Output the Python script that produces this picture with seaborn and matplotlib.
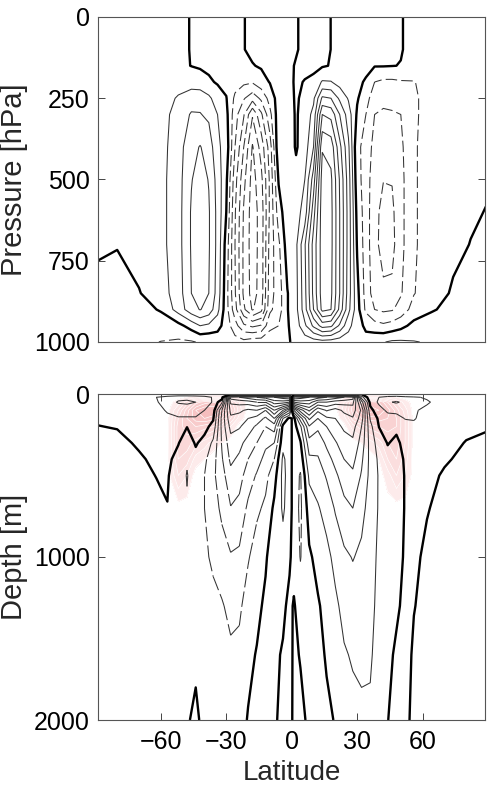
import numpy as np
import matplotlib
matplotlib.use("Agg")
import matplotlib.pyplot as plt
import seaborn as sns
import contourpy
from matplotlib.collections import LineCollection
from matplotlib.colors import LinearSegmentedColormap

# ---------------- atmosphere: streamfunction (contour units) ----------------
atm_lat = [-89, -80, -70, -60, -52, -46, -42, -38, -34, -30, -26, -22, -18, -14,
           -10, -6, -2, 2, 6, 10, 14, 18, 22, 26, 30, 34, 38, 42, 46, 50, 56, 64,
           74, 82, 89]
atm_p = [0, 100, 150, 200, 250, 300, 400, 500, 600, 700, 850, 900, 950, 1000]
# one list per latitude, values at the pressures above
atm_psi_by_lat = [
    [0.2, 0.2, 0.25, 0.3, 0.3, 0.3, 0.3, 0.3, 0.25, 0.15, -0.3, -0.4, -0.5, -0.5],
    [0.25, 0.25, 0.3, 0.35, 0.4, 0.4, 0.4, 0.4, 0.3, 0.05, -0.4, -0.5, -0.6, -0.6],
    [0.3, 0.3, 0.35, 0.4, 0.5, 0.55, 0.55, 0.55, 0.5, 0.4, -0.05, -0.4, -0.6, -0.8],
    [0.3, 0.3, 0.35, 0.4, 0.55, 0.6, 0.65, 0.7, 0.7, 0.7, 0.55, 0.1, -0.6, -1.02],
    [0.25, 0.25, 0.2, 0.6, 1.1, 1.4, 1.55, 1.6, 1.6, 1.6, 1.5, 1.4, -0.3, -1.15],
    [-0.05, -0.05, -0.02, 0.6, 1.5, 2.1, 2.7, 2.95, 3.1, 3.1, 3.0, 2.6, 0.4, -1.1],
    [-0.15, -0.15, -0.1, 0.4, 1.65, 2.05, 3.05, 3.4, 3.6, 3.6, 3.4, 3.05, 1.0, -0.9],
    [-0.2, -0.2, -0.2, 0.15, 1.2, 1.8, 2.6, 2.95, 3.1, 3.1, 3.0, 2.6, 0.8, -0.9],
    [-0.2, -0.2, -0.25, -0.1, 0.5, 1.0, 1.2, 1.6, 1.7, 1.7, 1.6, 1.3, 0.4, -0.7],
    [-0.15, -0.15, -0.2, -0.3, 0.05, 0.3, 0.6, 0.2, 0.0, -0.4, -0.6, -0.6, -0.5, -0.8],
    [-0.1, -0.1, -0.15, -0.6, -1.2, -1.6, -2.0, -2.6, -2.9, -3.0, -2.9, -2.6, -1.6, -0.6],
    [-0.03, -0.03, -0.1, -0.8, -1.9, -2.9, -4.0, -4.7, -5.1, -5.2, -5.2, -4.8, -2.8, -0.7],
    [0.2, 0.2, -0.05, -0.9, -2.6, -4.9, -6.1, -6.4, -6.5, -6.5, -6.4, -6.1, -3.2, -0.4],
    [0.3, 0.3, 0.1, -0.4, -1.8, -3.2, -4.6, -5.3, -5.6, -5.6, -5.6, -5.3, -2.9, -0.4],
    [0.35, 0.35, 0.35, 0.05, -0.6, -1.3, -2.5, -2.8, -2.8, -2.6, -2.4, -2.2, -1.3, -0.3],
    [0.35, 0.35, 0.4, 0.4, 0.45, 0.6, 0.8, 0.1, -0.5, -1.2, -1.5, -1.5, -1.0, -0.3],
    [0.3, 0.3, 0.3, 0.35, 0.4, 0.5, 0.6, 0.7, 0.7, 0.5, -0.05, -0.05, -0.1, -0.1],
    [0.1, 0.1, -0.1, -0.15, -0.12, -0.1, -0.1, 0.3, 0.6, 0.8, 0.7, 0.7, 0.5, 0.2],
    [-0.3, -0.3, -0.25, 0.05, 0.25, 0.4, 0.5, 1.0, 1.4, 2.9, 2.7, 2.6, 1.8, 0.4],
    [-0.35, -0.35, -0.3, 0.3, 0.8, 1.3, 2.0, 3.5, 4.6, 5.4, 5.3, 5.0, 3.2, 0.5],
    [-0.25, -0.25, -0.1, 1.1, 3.2, 5.0, 6.9, 7.5, 7.6, 7.5, 7.5, 7.3, 4.4, 0.6],
    [0.01, 0.01, 0.05, 1.05, 3.0, 4.7, 6.6, 7.2, 7.3, 7.3, 7.2, 7.0, 4.2, 0.5],
    [0.2, 0.2, 0.3, 0.6, 1.8, 3.0, 4.3, 4.9, 5.0, 5.0, 5.0, 4.7, 2.8, 0.4],
    [0.3, 0.3, 0.35, 0.45, 0.9, 1.5, 2.2, 2.5, 2.6, 2.6, 2.5, 2.3, 1.3, 0.5],
    [0.3, 0.3, 0.3, 0.2, 0.1, -0.15, -0.8, -0.6, -0.3, -0.1, 0.3, 0.4, 0.4, 0.5],
    [0.3, 0.3, 0.25, -0.1, -0.6, -1.0, -1.3, -1.5, -1.5, -1.5, -1.4, -1.2, -0.2, 0.35],
    [0.25, 0.25, 0.05, -1.0, -1.6, -2.0, -2.4, -2.6, -2.7, -2.7, -2.5, -2.0, -0.6, 0.8],
    [0.2, 0.2, 0.05, -1.2, -1.75, -2.15, -2.6, -2.97, -3.3, -3.4, -2.8, -2.2, -0.8, 0.95],
    [0.1, 0.1, 0.02, -1.2, -1.7, -2.1, -2.55, -2.95, -3.2, -3.3, -2.8, -2.1, -0.6, 1.15],
    [0.04, 0.04, -0.02, -1.1, -1.6, -2.0, -2.2, -2.3, -2.3, -2.3, -2.1, -1.6, -0.3, 1.15],
    [-0.2, -0.2, -0.25, -1.05, -1.15, -1.15, -1.1, -1.1, -1.1, -1.1, -1.05, -0.6, 0.3, 1.05],
    [-0.3, -0.3, -0.3, -0.5, -0.6, -0.6, -0.6, -0.6, -0.6, -0.6, -0.4, -0.1, 0.5, 0.9],
    [-0.3, -0.3, -0.3, -0.4, -0.45, -0.45, -0.45, -0.4, -0.3, -0.2, 0.1, 0.3, 0.5, 0.6],
    [-0.25, -0.25, -0.25, -0.3, -0.3, -0.3, -0.3, -0.2, -0.1, 0.02, 0.3, 0.4, 0.5, 0.5],
    [-0.2, -0.2, -0.2, -0.2, -0.2, -0.2, -0.2, -0.1, 0.02, 0.15, 0.3, 0.35, 0.4, 0.4],
]
atm_levels = [-8, -7, -6, -5, -4, -3, -2, -1, 0, 1, 2, 3, 4, 5, 6, 7, 8]

# ---------------- ocean: overturning streamfunction ----------------
ocn_lat = [-89, -80, -70, -62, -57, -52, -48, -44, -40, -36, -32, -28, -24, -20,
           -16, -12, -8, -4, -1, 1, 4, 8, 12, 16, 20, 24, 28, 32, 36, 40, 44, 48,
           52, 56, 62, 70, 80, 89]
ocn_depth = [0, 20, 50, 100, 150, 200, 300, 400, 500, 700, 1000, 1300, 1600, 2000]
ocn_psi_by_lat = [
    [0.05, 0.2, 0.2, 0.15, 0.05, -0.01, -0.1, -0.12, -0.12, -0.12, -0.12, -0.12, -0.12, -0.1],
    [0.05, 0.3, 0.3, 0.2, 0.1, 0.02, -0.1, -0.15, -0.15, -0.15, -0.15, -0.15, -0.15, -0.1],
    [0.05, 0.6, 0.5, 0.4, 0.3, 0.2, 0.05, -0.05, -0.1, -0.15, -0.15, -0.15, -0.15, -0.1],
    [0.05, 1.0, 0.9, 0.7, 0.5, 0.35, 0.2, 0.08, 0.01, -0.1, -0.15, -0.15, -0.15, -0.1],
    [0.05, 1.4, 1.5, 1.1, 0.8, 0.6, 0.35, 0.2, 0.08, -0.02, -0.1, -0.15, -0.15, -0.1],
    [0.05, 1.7, 2.1, 1.4, 0.9, 0.5, 0.05, -0.3, -0.5, -0.6, -0.5, -0.3, -0.15, -0.1],
    [0.05, 1.7, 2.2, 1.4, 0.9, 0.02, -0.5, -0.9, -1.05, -0.9, -0.6, -0.35, -0.15, -0.05],
    [0.05, 1.6, 2.0, 1.4, 0.9, 0.5, 0.1, -0.3, -0.5, -0.6, -0.5, -0.3, -0.1, 0.1],
    [0.05, 1.4, 1.5, 1.0, 0.6, 0.3, -0.3, -0.8, -1.0, -1.0, -0.8, -0.5, -0.3, -0.15],
    [0.05, 0.9, 0.9, 0.5, 0.1, -0.3, -1.2, -1.6, -1.8, -1.6, -1.2, -0.7, -0.4, -0.2],
    [0.05, 0.6, -0.8, -3.0, -3.3, -3.3, -3.1, -2.9, -2.6, -2.2, -1.6, -0.9, -0.5, -0.3],
    [0.05, -8.5, -7.2, -6.3, -5.8, -5.3, -4.6, -4.2, -3.7, -2.95, -1.9, -1.3, -0.8, -0.4],
    [0.05, -9.0, -7.4, -6.2, -5.6, -5.1, -4.3, -3.8, -3.4, -2.7, -1.8, -1.2, -0.7, -0.3],
    [0.05, -9.5, -7.5, -5.8, -5.0, -4.5, -3.6, -3.0, -2.5, -1.8, -1.1, -0.5, -0.2, 0.05],
    [0.05, -10.0, -8.0, -6.0, -4.6, -3.8, -3.0, -2.4, -1.9, -1.2, -0.5, -0.2, 0.05, 0.15],
    [0.05, -10.5, -8.0, -5.0, -3.8, -3.0, -2.2, -1.7, -1.3, -0.8, -0.1, 0.15, 0.2, 0.15],
    [0.05, -11.0, -9.5, -7.0, -5.0, -3.5, -2.0, -1.0, -0.4, 0.2, 0.5, 0.4, 0.2, 0.1],
    [0.05, -11.5, -9.5, -5.0, -1.0, 0.3, 0.7, 1.2, 1.3, 1.15, 0.6, 0.2, -0.1, -0.2],
    [0.05, -12.0, -9.0, -3.0, 0.3, 0.45, 0.5, 0.5, 0.5, 0.5, 0.15, -0.25, -0.3, -0.25],
    [-0.05, 12.0, 9.0, 3.0, -0.3, -0.45, -0.5, -0.5, -0.5, -0.5, -0.4, 0.1, 0.15, 0.15],
    [-0.05, 11.5, 9.5, 5.5, 2.5, 0.8, -0.1, -0.6, -1.1, -1.2, -1.05, -0.5, -0.05, 0.2],
    [-0.05, 11.0, 9.5, 7.2, 5.2, 3.9, 2.6, 1.8, 1.2, 0.45, -0.15, -0.35, -0.3, -0.15],
    [-0.05, 10.5, 8.0, 5.2, 4.0, 3.2, 2.4, 1.9, 1.5, 0.9, 0.3, -0.1, -0.15, -0.2],
    [-0.05, 10.0, 8.0, 6.1, 4.8, 4.0, 3.2, 2.6, 2.1, 1.4, 0.7, 0.3, 0.05, -0.1],
    [-0.05, 9.5, 7.5, 5.6, 5.0, 4.6, 3.9, 3.3, 2.8, 2.1, 1.3, 0.8, 0.4, 0.03],
    [-0.05, 9.0, 7.4, 6.2, 5.6, 5.2, 4.5, 4.0, 3.5, 2.7, 1.8, 1.3, 0.9, 0.5],
    [-0.05, 8.5, 7.3, 6.5, 5.9, 5.4, 4.8, 4.3, 3.8, 3.0, 2.05, 1.5, 1.1, 0.7],
    [-0.05, 1.5, 3.5, 4.8, 4.5, 4.0, 3.6, 3.2, 2.9, 2.3, 1.8, 1.5, 1.2, 0.8],
    [-0.05, -0.8, -0.3, 0.3, 0.9, 1.3, 1.6, 1.7, 1.7, 1.6, 1.4, 1.3, 1.15, 0.8],
    [-0.05, -1.0, -1.2, -0.6, -0.2, -0.02, 0.5, 0.8, 0.9, 0.9, 0.8, 0.7, 0.5, 0.3],
    [-0.05, -1.3, -1.9, -1.2, -0.6, -0.3, -0.05, 0.3, 0.5, 0.6, 0.5, 0.35, 0.15, 0.02],
    [-0.05, -1.4, -2.1, -1.3, -0.6, -0.2, 0.2, 0.35, 0.4, 0.4, 0.3, 0.1, -0.1, -0.3],
    [-0.05, -1.2, -1.8, -1.2, -1.05, -0.6, -0.3, -0.1, -0.05, -0.05, -0.1, -0.15, -0.2, -0.15],
    [-0.05, -1.1, -1.5, -1.1, -1.1, -0.7, -0.35, -0.3, -0.25, -0.2, -0.1, -0.02, 0.08, 0.15],
    [-0.05, -0.9, -1.1, -0.8, -0.5, -0.4, -0.3, -0.2, -0.12, -0.03, 0.1, 0.15, 0.2, 0.2],
    [-0.05, -0.5, -0.6, -0.5, -0.35, -0.25, -0.15, -0.05, 0.05, 0.15, 0.2, 0.2, 0.2, 0.2],
    [-0.05, -0.3, -0.35, -0.3, -0.2, -0.1, 0.02, 0.1, 0.15, 0.2, 0.2, 0.2, 0.2, 0.2],
    [-0.05, -0.2, -0.2, -0.15, -0.1, -0.05, 0.1, 0.15, 0.15, 0.15, 0.15, 0.15, 0.15, 0.15],
]
ocn_levels = list(range(-13, 14))

# pink shaded field (0..1), only where non-zero; other latitudes are 0
ocn_shade_by_lat = {
    -52: [0, 0, 0.1, 0.25, 0.35, 0.4, 0.4, 0.35, 0.25, 0, 0, 0, 0, 0],
    -48: [0, 0.05, 0.3, 0.5, 0.55, 0.5, 0.4, 0.3, 0.15, 0, 0, 0, 0, 0],
    -44: [0, 0.1, 0.5, 0.75, 0.7, 0.55, 0.3, 0.1, 0, 0, 0, 0, 0, 0],
    -40: [0, 0.15, 0.6, 0.85, 0.75, 0.5, 0.2, 0.05, 0, 0, 0, 0, 0, 0],
    -36: [0, 0.15, 0.65, 0.85, 0.7, 0.45, 0.1, 0, 0, 0, 0, 0, 0, 0],
    -32: [0, 0.15, 0.6, 0.75, 0.55, 0.3, 0.05, 0, 0, 0, 0, 0, 0, 0],
    -28: [0, 0.1, 0.4, 0.5, 0.35, 0.15, 0, 0, 0, 0, 0, 0, 0, 0],
    -24: [0, 0.05, 0.15, 0.2, 0.1, 0, 0, 0, 0, 0, 0, 0, 0, 0],
    24: [0, 0.05, 0.15, 0.2, 0.1, 0, 0, 0, 0, 0, 0, 0, 0, 0],
    28: [0, 0.1, 0.45, 0.5, 0.4, 0.2, 0, 0, 0, 0, 0, 0, 0, 0],
    32: [0, 0.15, 0.65, 0.7, 0.55, 0.3, 0.05, 0, 0, 0, 0, 0, 0, 0],
    36: [0, 0.15, 0.7, 0.8, 0.6, 0.4, 0.1, 0, 0, 0, 0, 0, 0, 0],
    40: [0, 0.15, 0.65, 0.75, 0.6, 0.45, 0.2, 0.05, 0, 0, 0, 0, 0, 0],
    44: [0, 0.1, 0.45, 0.6, 0.55, 0.5, 0.35, 0.25, 0.1, 0, 0, 0, 0, 0],
    48: [0, 0.05, 0.25, 0.4, 0.45, 0.45, 0.4, 0.35, 0.25, 0, 0, 0, 0, 0],
    52: [0, 0, 0.1, 0.2, 0.25, 0.25, 0.25, 0.2, 0.15, 0, 0, 0, 0, 0],
}
shade_levels = [0.05, 0.15, 0.25, 0.35, 0.45, 0.55, 0.65, 0.75, 0.85, 1.0]

pressure_ticks = [0, 250, 500, 750, 1000]
depth_ticks = [0, 1000, 2000]
lat_ticks = [-60, -30, 0, 30, 60]

# ---------------- style ----------------
sns.set_style("white")
plt.rcParams['font.family'] = ['Liberation Sans', 'DejaVu Sans']
plt.rcParams['axes.unicode_minus'] = True

W, H = 489, 794
fig = plt.figure(figsize=(W / 100, H / 100), dpi=100)
ax1 = fig.add_axes([98 / W, 1 - 342 / H, 387 / W, 325 / H])
ax2 = fig.add_axes([98 / W, 1 - 720 / H, 387 / W, 326 / H])

THIN = '#333333'
THIN_LW = 0.75


def dashed_by_segment(ax, x, y, z, levels, dash):
    """Negative contours, dash pattern restarting on every grid-cell segment."""
    X, Y = np.meshgrid(x, y)
    gen = contourpy.contour_generator(X, Y, z, line_type='Separate')
    segs = []
    for lev in levels:
        for line in gen.lines(lev):
            for i in range(len(line) - 1):
                segs.append(line[i:i + 2])
    ax.add_collection(LineCollection(segs, colors=THIN, linewidths=THIN_LW,
                                     linestyles=[(0, dash)]))


def draw_field(ax, x, y, cols, levels, per_segment_dash=False):
    z = np.array(cols, dtype=float).T
    neg = [l for l in levels if l < 0]
    pos = [l for l in levels if l > 0]
    if per_segment_dash:
        dashed_by_segment(ax, x, y, z, neg, (14, 4))
    else:
        ax.contour(x, y, z, levels=neg, colors=THIN, linewidths=THIN_LW,
                   linestyles=[(0, (11, 4))])
    ax.contour(x, y, z, levels=pos, colors=THIN, linewidths=THIN_LW, linestyles='solid')
    ax.contour(x, y, z, levels=[0], colors='black', linewidths=1.7, linestyles='solid')


# top panel
draw_field(ax1, atm_lat, atm_p, atm_psi_by_lat, atm_levels)
ax1.set_ylim(1000, 0)
ax1.set_xlim(-88.8, 88.6)
ax1.set_yticks(pressure_ticks)
ax1.set_xticks([])

# bottom panel: pink shading first
shade = np.zeros((len(ocn_depth), len(ocn_lat)))
for lat, col in ocn_shade_by_lat.items():
    shade[:, ocn_lat.index(lat)] = col
pink = LinearSegmentedColormap.from_list('pink', ['#fdeeee', '#f4b2b2'])
ax2.contourf(ocn_lat, ocn_depth, shade, levels=shade_levels, cmap=pink, zorder=0)
ax2.contour(ocn_lat, ocn_depth, shade, levels=shade_levels, colors='white',
            linewidths=0.5, zorder=0.5)
draw_field(ax2, ocn_lat, ocn_depth, ocn_psi_by_lat, ocn_levels, per_segment_dash=True)
ax2.set_ylim(2000, 0)
ax2.set_xlim(-88.8, 88.6)
ax2.set_yticks(depth_ticks)
ax2.set_xticks(lat_ticks)

for ax in (ax1, ax2):
    ax.tick_params(direction='in', length=5, width=0.7, color='#444444',
                   top=True, right=True, bottom=True, left=True,
                   labelsize=18, pad=6, labelcolor='black')
    for s in ax.spines.values():
        s.set_color('#555555')
        s.set_linewidth(0.8)
        s.set_zorder(5)
    ax.set_facecolor('white')
ax2.tick_params(axis='x', pad=7)

ax1.set_ylabel('Pressure [hPa]', fontsize=21)
ax2.set_ylabel('Depth [m]', fontsize=21)
ax1.yaxis.set_label_coords((28 - 98) / 387, 0.5)
ax2.yaxis.set_label_coords((28 - 98) / 387, 0.5)
ax2.set_xlabel('Latitude', fontsize=20)
ax2.xaxis.set_label_coords(0.5, -(760 - 720) / 326)

fig.savefig('out.png', dpi=100, facecolor='white')
